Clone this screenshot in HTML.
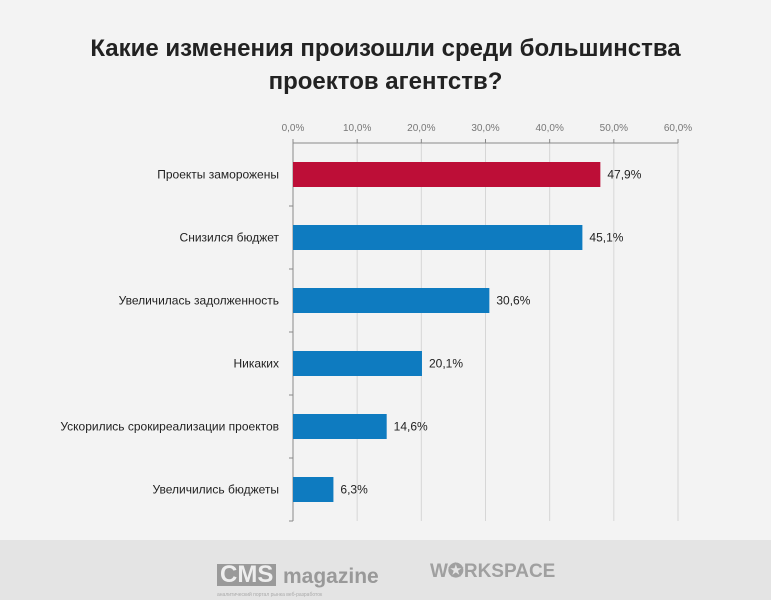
<!DOCTYPE html>
<html><head><meta charset="utf-8"><style>
body{margin:0;width:771px;height:600px;background:#f3f3f3;font-family:"Liberation Sans",sans-serif;overflow:hidden;position:relative}
#title{position:absolute;top:32px;left:0;width:771px;text-align:center;font-size:24px;font-weight:bold;color:#222;line-height:33px}
#footer{position:absolute;top:540px;left:0;width:771px;height:60px;background:#e4e4e4}
</style></head><body>
<div id="title">Какие изменения произошли среди большинства<br>проектов агентств?</div>
<svg id="chart" width="771" height="540" style="position:absolute;top:0;left:0"></svg>
<div id="footer">
<div style="position:absolute;left:217px;top:24px;background:#9a9a9a;color:#eee;font-weight:bold;font-size:24px;padding:0 3px;line-height:22px">CMS</div>
<div style="position:absolute;left:283px;top:25px;color:#999;font-weight:bold;font-size:21px">magazine</div>
<div style="position:absolute;left:217px;top:52px;color:#aaa;font-size:5px">аналитический портал рынка веб-разработок</div>
<div style="position:absolute;left:430px;top:20px;color:#a0a0a0;font-weight:bold;font-size:19px">W✪RKSPACE</div>
</div>
<script>
const categories=["Проекты заморожены","Снизился бюджет","Увеличилась задолженность","Никаких","Ускорились срокиреализации проектов","Увеличились бюджеты"];
const values=[47.9,45.1,30.6,20.1,14.6,6.3];
const valueLabels=["47,9%","45,1%","30,6%","20,1%","14,6%","6,3%"];
const ticks=[0,10,20,30,40,50,60];
const tickLabels=["0,0%","10,0%","20,0%","30,0%","40,0%","50,0%","60,0%"];
const svg=document.getElementById('chart');const NS='http://www.w3.org/2000/svg';
const x0=293,x1=678,yTop=143,rowH=63;
const x=v=>x0+(v/60)*(x1-x0);
function mk(t,a,p){const e=document.createElementNS(NS,t);for(const k in a)e.setAttribute(k,a[k]);(p||svg).appendChild(e);return e;}
ticks.forEach((t,i)=>{
 const g=mk('line',{x1:x(t),x2:x(t),y1:yTop,y2:yTop+rowH*categories.length,stroke:i?'#d6d6d6':'#888','stroke-width':1});
 
 
 mk('line',{x1:x(t),x2:x(t),y1:yTop-4,y2:yTop,stroke:'#888'});
 const l=mk('text',{x:x(t),y:yTop-12,'text-anchor':'middle','font-size':10,fill:'#777'});l.textContent=tickLabels[i];
 
 
});
const ax=mk('line',{x1:x0,x2:x1,y1:yTop,y2:yTop,stroke:'#888'});


categories.forEach((c,i)=>{
 const cy=yTop+rowH*i+rowH/2;
 mk('line',{x1:x0-4,x2:x0,y1:yTop+rowH*(i+1),y2:yTop+rowH*(i+1),stroke:'#888'});
 const b=mk('rect',{x:x0,y:cy-12.5,width:x(values[i])-x0,height:25,fill:i===0?'#bd0e37':'#0e7bc0'});
 
 
 const t=mk('text',{x:x0-14,y:cy+4,'text-anchor':'end','font-size':12,fill:'#222'});t.textContent=c;
 
 
 const v=mk('text',{x:x(values[i])+7,y:cy+4,'font-size':12,fill:'#222'});v.textContent=valueLabels[i];
 
 
});
</script>
</body></html>
